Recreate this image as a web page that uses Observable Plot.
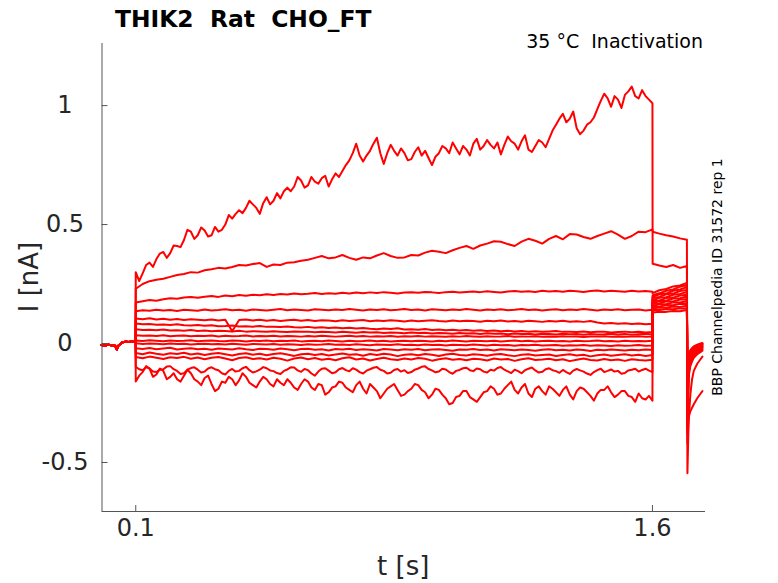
<!DOCTYPE html>
<html>
<head>
<meta charset="utf-8">
<script src="https://cdn.jsdelivr.net/npm/d3@7"></script>
<script src="https://cdn.jsdelivr.net/npm/@observablehq/plot@0.6"></script>
<style>
  html, body { margin: 0; padding: 0; background: #fff; }
  #chart { width: 778px; height: 583px; }
</style>
</head>
<body>
<div id="chart"></div>
<script>
// ---- Texts ----
const titleText = "THIK2  Rat  CHO_FT";
const subtitleText = "35 °C  Inactivation";
const sideText = "BBP Channelpedia ID 31572 rep 1";
const xLabel = "t [s]";
const yLabel = "I [nA]";

// ---- Ticks ----
const xTicks = [0.1, 1.6];
const xTickLabels = ["0.1", "1.6"];
const yTicks = [-0.5, 0, 0.5, 1];
const yTickLabels = ["-0.5", "0", "0.5", "1"];

// ---- Recording (currents in pA) ----
// holding period before the step (shared by all sweeps)
const preTime = [0, 0.01, 0.02, 0.03, 0.04, 0.045, 0.05, 0.06, 0.07, 0.08, 0.09, 0.0995];
const preCurrent = [-6, -8, -5, -7, -9, -25, -8, 4, 8, 6, 9, 7];

// step period from 0.1 s to 1.6 s; sample interval per sweep (s)
const stepStart = 0.1;
const stepDt = [0.01, 0.02, 0.02, 0.02, 0.02, 0.02, 0.02, 0.02, 0.02, 0.02, 0.02, 0.02, 0.02, 0.01, 0.01];

// test pulse after the step
const postTime = [1.6005, 1.62, 1.64, 1.66, 1.68, 1.70];
// tail after the test pulse
const tailTime = [1.7015, 1.705, 1.71, 1.715, 1.72, 1.73, 1.74, 1.745];

const step1 = [300,262,295,330,340,322,355,378,385,360,
  380,412,410,405,435,478,470,440,455,488,
  475,450,455,490,470,478,500,540,525,545,
  560,548,570,600,585,570,545,590,615,585,
  600,632,610,640,655,640,660,700,685,655,
  665,700,680,672,695,705,660,690,715,700,
  725,750,770,800,840,790,765,790,810,840,
  865,800,755,800,835,810,790,820,800,770,
  775,805,825,790,810,780,750,785,800,830,
  820,800,845,820,795,830,815,790,840,860,
  815,830,855,835,820,845,795,835,870,850,
  840,815,850,875,815,805,830,855,845,825,
  860,895,920,945,965,930,945,975,905,880,
  895,920,930,950,985,1020,1050,1030,995,1040,
  1025,990,1045,1060,1080,1040,1030,1065,1040,1025,
  1010];
const step2 = [230,250,262,268,272,280,288,292,300,298,
  308,312,318,315,322,330,328,334,338,322,
  332,330,340,342,348,352,360,368,358,362,
  372,360,352,362,358,370,380,368,360,362,
  372,370,382,390,386,380,392,402,410,398,
  412,420,430,428,418,410,428,440,432,420,
  440,452,438,460,458,448,440,452,462,472,
  458,440,452,470,468,480];
const step3 = [172,178,183,180,186,190,188,193,196,192,
  197,200,196,202,199,204,201,205,203,207,
  204,208,206,210,207,209,212,208,211,209,
  213,210,214,211,215,212,216,213,210,214,
  216,213,217,215,212,216,218,214,217,219,
  216,220,217,214,219,221,218,220,217,222,
  219,221,218,222,220,217,221,223,219,222,
  220,218,222,219,221,218];
const step4 = [136,140,138,142,139,141,137,142,140,138,
  143,139,141,144,140,142,138,143,141,139,
  142,145,140,143,141,139,144,142,140,143,
  141,145,142,139,143,141,144,140,142,145,
  141,143,139,144,142,140,143,141,145,142,
  139,143,141,144,140,142,145,141,143,139,
  142,144,140,143,141,145,142,139,143,141,
  144,140,142,143,139,142];
const step5 = [105,102,106,101,104,100,103,99,102,100,
  98,101,97,100,52,99,101,97,100,96,
  99,95,98,100,96,99,95,98,97,94,
  98,95,97,99,94,97,95,98,96,93,
  97,94,96,98,95,93,97,94,96,95,
  92,96,94,97,93,95,92,96,94,91,
  95,93,96,92,94,91,95,88,84,86,
  83,85,82,84,81,83];
const step6 = [84,81,82,79,80,78,81,77,76,78,
  75,77,73,74,76,72,73,71,74,70,
  71,69,72,68,67,70,66,68,65,67,
  64,66,63,65,62,60,63,61,64,59,
  60,58,61,57,59,56,58,55,57,54,
  56,53,55,52,54,51,53,50,52,49,
  51,53,49,50,48,51,47,49,50,46,
  48,50,47,49,46,48];
const step7 = [60,57,58,56,59,55,56,54,57,53,
  55,52,54,53,51,54,50,52,51,49,
  52,50,48,51,49,50,47,49,48,46,
  49,47,45,48,46,47,44,46,45,43,
  46,44,45,42,44,43,41,44,42,43,
  40,43,41,42,39,42,40,41,38,41,
  40,38,41,39,40,37,40,38,39,41,
  38,40,37,39,41,38];
const step8 = [35,33,34,32,35,31,33,34,31,33,
  32,34,30,33,31,32,34,30,32,31,
  33,30,32,31,29,32,30,33,31,29,
  31,33,30,32,29,31,30,32,28,31,
  30,32,29,31,30,28,31,29,32,30,
  28,31,29,30,32,28,30,29,31,28,
  30,28,31,29,30,27,30,29,31,28,
  30,28,29,31,28,30];
const step9 = [13,11,14,12,10,13,11,12,14,10,
  12,13,11,10,13,12,9,12,11,13,
  10,12,11,13,9,11,12,10,13,11,
  9,12,10,11,13,10,12,9,11,12,
  10,12,11,9,12,10,13,11,9,12,
  11,10,12,9,11,13,10,12,9,11,
  12,10,11,9,12,10,11,13,10,11,
  9,12,10,11,10,12];
const step10 = [1,-2,0,-1,-3,0,-2,-1,-4,-2,
  -1,-3,-2,-4,-1,-3,-5,-2,-3,-4,
  -2,-5,-3,-4,-6,-3,-5,-4,-2,-5,
  -4,-6,-3,-5,-7,-4,-5,-6,-3,-6,
  -5,-7,-4,-6,-5,-8,-5,-6,-7,-4,
  -6,-8,-5,-7,-6,-9,-6,-7,-5,-8,
  -7,-6,-9,-7,-8,-6,-9,-7,-8,-10,
  -7,-9,-8,-6,-9,-8];
const step11 = [-20,-23,-19,-24,-21,-18,-25,-22,-20,-24,
  -22,-26,-21,-23,-25,-20,-24,-27,-22,-23,
  -26,-21,-24,-28,-23,-22,-26,-24,-29,-23,
  -25,-22,-27,-24,-26,-29,-23,-25,-28,-24,
  -26,-23,-28,-25,-24,-27,-30,-25,-26,-23,
  -27,-25,-29,-24,-26,-28,-25,-27,-30,-26,
  -24,-28,-26,-29,-25,-27,-31,-26,-28,-25,
  -27,-29,-26,-28,-25,-27];
const step12 = [-40,-45,-38,-43,-47,-41,-44,-39,-46,-42,
  -48,-43,-40,-45,-50,-44,-41,-47,-43,-49,
  -44,-41,-46,-52,-45,-43,-48,-44,-50,-46,
  -42,-47,-45,-51,-44,-48,-43,-46,-53,-47,
  -45,-49,-44,-47,-52,-46,-43,-48,-50,-45,
  -47,-51,-46,-44,-49,-53,-47,-45,-50,-48,
  -46,-52,-48,-45,-50,-47,-54,-49,-46,-51,
  -48,-45,-50,-47,-52,-48];
const step13 = [-57,-62,-55,-60,-65,-58,-61,-56,-64,-59,
  -66,-60,-57,-63,-70,-61,-58,-65,-62,-67,
  -60,-64,-72,-63,-59,-66,-61,-68,-64,-70,
  -62,-58,-67,-63,-71,-65,-60,-66,-69,-63,
  -67,-61,-64,-72,-66,-62,-68,-65,-70,-64,
  -66,-71,-63,-67,-65,-73,-66,-62,-69,-67,
  -64,-70,-66,-74,-68,-63,-69,-71,-65,-70,
  -67,-73,-66,-69,-71,-68];
const step14 = [-98,-108,-112,-100,-105,-118,-120,-110,-108,-97,
  -95,-108,-115,-128,-125,-110,-103,-100,-110,-122,
  -118,-105,-100,-108,-112,-125,-130,-115,-107,-118,
  -115,-104,-98,-112,-122,-117,-110,-99,-104,-113,
  -116,-124,-128,-115,-109,-100,-101,-113,-119,-107,
  -112,-126,-135,-118,-106,-104,-114,-125,-121,-108,
  -103,-112,-117,-104,-110,-120,-126,-114,-108,-102,
  -99,-110,-115,-126,-123,-111,-107,-118,-112,-124,
  -120,-110,-105,-98,-96,-107,-113,-121,-118,-106,
  -109,-120,-127,-115,-111,-104,-102,-112,-116,-105,
  -108,-118,-122,-110,-114,-103,-99,-110,-117,-124,
  -110,-116,-125,-112,-106,-101,-113,-122,-119,-108,
  -104,-112,-116,-123,-111,-120,-128,-114,-107,-113,
  -118,-126,-132,-120,-112,-106,-120,-115,-109,-118,
  -115,-127,-124,-113,-110,-106,-118,-111,-106,-114,
  -120];
const step15 = [-160,-135,-120,-95,-105,-140,-130,-105,-115,-150,
  -140,-125,-150,-160,-135,-110,-125,-150,-160,-175,
  -145,-135,-170,-200,-190,-160,-165,-140,-150,-175,
  -155,-125,-140,-165,-175,-185,-160,-140,-150,-170,
  -180,-150,-165,-175,-150,-165,-185,-195,-170,-150,
  -160,-185,-195,-170,-175,-215,-205,-185,-180,-160,
  -165,-185,-195,-205,-175,-160,-190,-210,-170,-185,
  -200,-230,-210,-190,-180,-170,-195,-220,-215,-200,
  -190,-170,-175,-195,-205,-230,-215,-190,-195,-215,
  -230,-255,-250,-225,-220,-200,-200,-225,-235,-245,
  -225,-205,-200,-180,-190,-215,-210,-190,-175,-160,
  -195,-210,-185,-170,-210,-225,-190,-180,-200,-215,
  -180,-190,-205,-220,-195,-180,-215,-235,-200,-185,
  -190,-205,-220,-240,-210,-195,-195,-180,-205,-225,
  -215,-200,-200,-220,-225,-245,-210,-230,-235,-220,
  -240];

const post1 = [335, 328, 322, 330, 318, 326];
const post2 = [470, 462, 455, 450, 442, 436];
const post3 = [212, 224, 229, 240, 244, 255];
const post4 = [203, 211, 222, 227, 239, 246];
const post5 = [196, 207, 210, 222, 227, 237];
const post6 = [191, 196, 207, 210, 221, 225];
const post7 = [182, 192, 195, 205, 208, 217];
const post8 = [178, 181, 191, 193, 202, 205];
const post9 = [170, 178, 180, 189, 190, 198];
const post10 = [167, 168, 177, 177, 185, 186];
const post11 = [159, 165, 165, 173, 172, 178];
const post12 = [155, 155, 162, 161, 167, 166];
const post13 = [147, 151, 150, 156, 154, 159];
const post14 = [141, 141, 145, 144, 148, 147];
const post15 = [130, 134, 133, 137, 136, 141];

const tail1 = [-545, -330, -215, -150, -115, -85, -65, -55];
const tail2 = [-420, -310, -285, -270, -255, -230, -210, -200];
const tail3 = [-380, -140, -95, -75, -60, -45, -35, -30];
const tail4 = [-360, -125, -85, -70, -55, -40, -30, -25];
const tail5 = [-340, -115, -80, -62, -50, -36, -28, -22];
const tail6 = [-320, -105, -72, -58, -45, -32, -25, -18];
const tail7 = [-300, -98, -66, -52, -40, -28, -20, -15];
const tail8 = [-280, -90, -60, -46, -35, -25, -17, -12];
const tail9 = [-260, -82, -55, -42, -32, -22, -14, -10];
const tail10 = [-240, -75, -50, -38, -28, -18, -11, -7];
const tail11 = [-220, -68, -45, -33, -24, -15, -9, -5];
const tail12 = [-200, -62, -40, -30, -20, -12, -6, -3];
const tail13 = [-180, -55, -36, -26, -17, -10, -4, -1];
const tail14 = [-160, -50, -32, -22, -14, -7, -2, 0];
const tail15 = [-140, -45, -28, -19, -12, -5, 0, 2];

const steps = [step1,step2,step3,step4,step5,step6,step7,step8,step9,step10,step11,step12,step13,step14,step15];
const posts = [post1,post2,post3,post4,post5,post6,post7,post8,post9,post10,post11,post12,post13,post14,post15];
const tails = [tail1,tail2,tail3,tail4,tail5,tail6,tail7,tail8,tail9,tail10,tail11,tail12,tail13,tail14,tail15];

// ---- Build table ----
const rows = [];
steps.forEach((st, k) => {
  preTime.forEach((t, j) => rows.push({sweep: k, t, i: preCurrent[j] / 1000}));
  st.forEach((v, j) => rows.push({sweep: k, t: stepStart + j * stepDt[k], i: v / 1000}));
  postTime.forEach((t, j) => rows.push({sweep: k, t, i: posts[k][j] / 1000}));
  tailTime.forEach((t, j) => rows.push({sweep: k, t, i: tails[k][j] / 1000}));
});

const W = 778, H = 583;
const mL = 101.5, mR = 73, mT = 43, mB = 72;
const plotW = W - mL - mR, plotH = H - mT - mB;
const xDom = [0.002, 1.754];
const yDom = [-0.706, 1.261];
const axisColor = "#555555";
const textColor = "#262626";
const font = "DejaVu Sans";

const chart = Plot.plot({
  width: W, height: H,
  marginLeft: mL, marginRight: mR, marginTop: mT, marginBottom: mB,
  x: {domain: xDom, axis: null},
  y: {domain: yDom, axis: null},
  style: {fontFamily: font, background: "#fff", overflow: "visible"},
  marks: [
    Plot.line(rows, {x: "t", y: "i", z: "sweep", stroke: "#ff0000", strokeWidth: 2, strokeLinejoin: "round"}),
    Plot.ruleX([xDom[0]], {stroke: axisColor, strokeWidth: 1}),
    Plot.ruleY([yDom[0]], {stroke: axisColor, strokeWidth: 1}),
    Plot.tickY(yTicks, {y: d => d, stroke: axisColor, insetRight: plotW - 6}),
    Plot.tickX(xTicks, {x: d => d, stroke: axisColor, insetTop: plotH - 6}),
    Plot.text(yTicks, {y: d => d, text: (d, i) => yTickLabels[i], frameAnchor: "left", dx: -37, textAnchor: "middle", fontSize: 24, fill: textColor}),
    Plot.text(xTicks, {x: d => d, text: (d, i) => xTickLabels[i], frameAnchor: "bottom", dy: 24, fontSize: 24, fill: textColor})
  ]
});

const svg = d3.select(chart);
svg.append("text")
  .attr("x", 115).attr("y", 27).attr("text-anchor", "start")
  .style("white-space", "pre")
  .attr("font-family", font).attr("font-weight", "bold").attr("font-size", 23.4)
  .attr("fill", "#000").text(titleText);
svg.append("text")
  .attr("x", 703).attr("y", 48).attr("text-anchor", "end")
  .style("white-space", "pre")
  .attr("font-family", font).attr("font-size", 19)
  .attr("fill", "#000").text(subtitleText);
svg.append("text")
  .attr("transform", "translate(722,277) rotate(-90)").attr("text-anchor", "middle")
  .attr("font-family", font).attr("font-size", 14)
  .attr("fill", "#000").text(sideText);
svg.append("text")
  .attr("x", mL + plotW / 2).attr("y", 575).attr("text-anchor", "middle")
  .attr("font-family", font).attr("font-size", 26)
  .attr("fill", textColor).text(xLabel);
svg.append("text")
  .attr("transform", "translate(38,277) rotate(-90)").attr("text-anchor", "middle")
  .attr("font-family", font).attr("font-size", 26)
  .attr("fill", textColor).text(yLabel);

document.getElementById("chart").appendChild(chart);
</script>
</body>
</html>
